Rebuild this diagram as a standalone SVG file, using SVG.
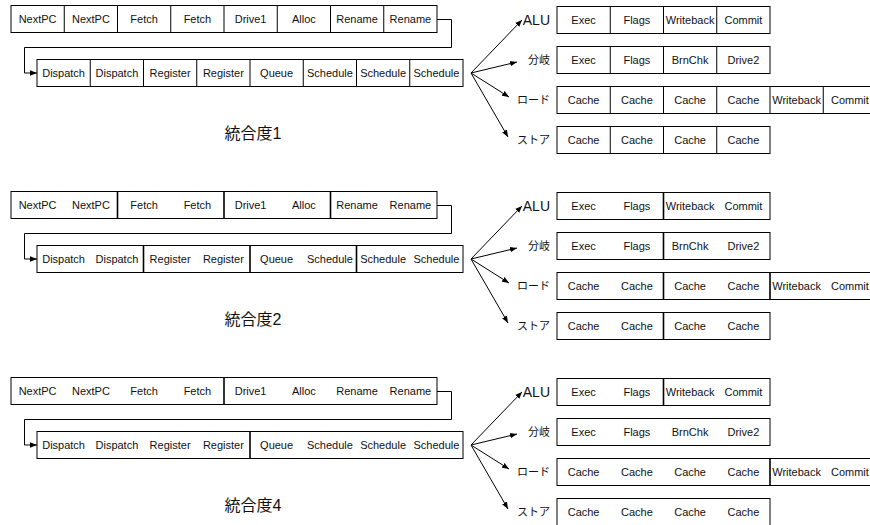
<svg xmlns="http://www.w3.org/2000/svg" width="870" height="525" viewBox="0 0 870 525">
<defs>
<marker id="ah" viewBox="0 0 10 10" refX="10" refY="5" markerWidth="7" markerHeight="7" orient="auto" markerUnits="userSpaceOnUse"><path d="M0,1 L10,5 L0,9 z" fill="#000"/></marker>
<style>
.box{fill:#fff;stroke:#000;stroke-width:1}
.div{stroke:#000;stroke-width:1}
.divb{stroke:#000;stroke-width:1.6}
.t{font-family:"Liberation Sans",Arial,sans-serif;font-size:11px;fill:#111;text-anchor:middle;dominant-baseline:central}
.lab{font-family:"Liberation Sans","Noto Sans CJK JP",sans-serif;font-size:11px;fill:#111;text-anchor:end;dominant-baseline:central}
.alu{font-size:14px}
.cap{font-family:"Liberation Sans","Noto Sans CJK JP",sans-serif;font-size:16px;fill:#111;text-anchor:middle;dominant-baseline:central}
.ln{fill:none;stroke:#000;stroke-width:1}
</style>
</defs>
<rect width="870" height="525" fill="#fff"/>

<!-- Section 1 -->
<g id="sec1">
<g id="s1-front">
<rect class="box" x="11" y="5.5" width="426" height="27"/>
<path class="div" d="M64.25,5.5V32.5M117.5,5.5V32.5M170.75,5.5V32.5M224,5.5V32.5M277.25,5.5V32.5M330.5,5.5V32.5M383.75,5.5V32.5"/>
<text class="t" y="19"><tspan x="37.6">NextPC</tspan><tspan x="90.9">NextPC</tspan><tspan x="144.1">Fetch</tspan><tspan x="197.4">Fetch</tspan><tspan x="250.6">Drive1</tspan><tspan x="303.9">Alloc</tspan><tspan x="357.1">Rename</tspan><tspan x="410.4">Rename</tspan></text>
</g>
<g id="s1-back">
<rect class="box" x="37" y="59.5" width="426" height="27"/>
<path class="div" d="M90.25,59.5V86.5M143.5,59.5V86.5M196.75,59.5V86.5M250,59.5V86.5M303.25,59.5V86.5M356.5,59.5V86.5M409.75,59.5V86.5"/>
<text class="t" y="73"><tspan x="63.6">Dispatch</tspan><tspan x="116.9">Dispatch</tspan><tspan x="170.1">Register</tspan><tspan x="223.4">Register</tspan><tspan x="276.6">Queue</tspan><tspan x="329.9">Schedule</tspan><tspan x="383.1">Schedule</tspan><tspan x="436.4">Schedule</tspan></text>
</g>
<g id="s1-alu">
<text class="lab alu" x="550" y="20">ALU</text>
<rect class="box" x="557" y="6.5" width="213" height="27"/>
<path class="div" d="M610.25,6.5V33.5M663.5,6.5V33.5M716.75,6.5V33.5"/>
<text class="t" y="20"><tspan x="583.6">Exec</tspan><tspan x="636.9">Flags</tspan><tspan x="690.1">Writeback</tspan><tspan x="743.4">Commit</tspan></text>
</g>
<g id="s1-br">
<text class="lab" x="550" y="60">分岐</text>
<rect class="box" x="557" y="46.5" width="213" height="27"/>
<path class="div" d="M610.25,46.5V73.5M663.5,46.5V73.5M716.75,46.5V73.5"/>
<text class="t" y="60"><tspan x="583.6">Exec</tspan><tspan x="636.9">Flags</tspan><tspan x="690.1">BrnChk</tspan><tspan x="743.4">Drive2</tspan></text>
</g>
<g id="s1-ld">
<text class="lab" x="550" y="100">ロード</text>
<rect class="box" x="557" y="86.5" width="320" height="27"/>
<path class="div" d="M610.25,86.5V113.5M663.5,86.5V113.5M716.75,86.5V113.5M770,86.5V113.5M823.25,86.5V113.5"/>
<text class="t" y="100"><tspan x="583.6">Cache</tspan><tspan x="636.9">Cache</tspan><tspan x="690.1">Cache</tspan><tspan x="743.4">Cache</tspan><tspan x="796.6">Writeback</tspan><tspan x="849.9">Commit</tspan></text>
</g>
<g id="s1-st">
<text class="lab" x="550" y="140">ストア</text>
<rect class="box" x="557" y="126.5" width="213" height="27"/>
<path class="div" d="M610.25,126.5V153.5M663.5,126.5V153.5M716.75,126.5V153.5"/>
<text class="t" y="140"><tspan x="583.6">Cache</tspan><tspan x="636.9">Cache</tspan><tspan x="690.1">Cache</tspan><tspan x="743.4">Cache</tspan></text>
</g>
<text class="cap" x="253" y="133">統合度1</text>
</g>

<!-- Section 2 -->
<g id="sec2" transform="translate(0,186)">
<g id="s2-front">
<rect class="box" x="11" y="5.5" width="426" height="27"/>
<path class="divb" d="M117.5,5.5V32.5M224,5.5V32.5M330.5,5.5V32.5"/>
<text class="t" y="19"><tspan x="37.6">NextPC</tspan><tspan x="90.9">NextPC</tspan><tspan x="144.1">Fetch</tspan><tspan x="197.4">Fetch</tspan><tspan x="250.6">Drive1</tspan><tspan x="303.9">Alloc</tspan><tspan x="357.1">Rename</tspan><tspan x="410.4">Rename</tspan></text>
</g>
<g id="s2-back">
<rect class="box" x="37" y="59.5" width="426" height="27"/>
<path class="divb" d="M143.5,59.5V86.5M250,59.5V86.5M356.5,59.5V86.5"/>
<text class="t" y="73"><tspan x="63.6">Dispatch</tspan><tspan x="116.9">Dispatch</tspan><tspan x="170.1">Register</tspan><tspan x="223.4">Register</tspan><tspan x="276.6">Queue</tspan><tspan x="329.9">Schedule</tspan><tspan x="383.1">Schedule</tspan><tspan x="436.4">Schedule</tspan></text>
</g>
<g id="s2-alu">
<text class="lab alu" x="550" y="20">ALU</text>
<rect class="box" x="557" y="6.5" width="213" height="27"/>
<path class="divb" d="M663.5,6.5V33.5"/>
<text class="t" y="20"><tspan x="583.6">Exec</tspan><tspan x="636.9">Flags</tspan><tspan x="690.1">Writeback</tspan><tspan x="743.4">Commit</tspan></text>
</g>
<g id="s2-br">
<text class="lab" x="550" y="60">分岐</text>
<rect class="box" x="557" y="46.5" width="213" height="27"/>
<path class="divb" d="M663.5,46.5V73.5"/>
<text class="t" y="60"><tspan x="583.6">Exec</tspan><tspan x="636.9">Flags</tspan><tspan x="690.1">BrnChk</tspan><tspan x="743.4">Drive2</tspan></text>
</g>
<g id="s2-ld">
<text class="lab" x="550" y="100">ロード</text>
<rect class="box" x="557" y="86.5" width="320" height="27"/>
<path class="divb" d="M663.5,86.5V113.5M770,86.5V113.5"/>
<text class="t" y="100"><tspan x="583.6">Cache</tspan><tspan x="636.9">Cache</tspan><tspan x="690.1">Cache</tspan><tspan x="743.4">Cache</tspan><tspan x="796.6">Writeback</tspan><tspan x="849.9">Commit</tspan></text>
</g>
<g id="s2-st">
<text class="lab" x="550" y="140">ストア</text>
<rect class="box" x="557" y="126.5" width="213" height="27"/>
<path class="divb" d="M663.5,126.5V153.5"/>
<text class="t" y="140"><tspan x="583.6">Cache</tspan><tspan x="636.9">Cache</tspan><tspan x="690.1">Cache</tspan><tspan x="743.4">Cache</tspan></text>
</g>
<text class="cap" x="253" y="133">統合度2</text>
</g>

<!-- Section 3 -->
<g id="sec3" transform="translate(0,372)">
<g id="s3-front">
<rect class="box" x="11" y="5.5" width="426" height="27"/>
<path class="divb" d="M224,5.5V32.5"/>
<text class="t" y="19"><tspan x="37.6">NextPC</tspan><tspan x="90.9">NextPC</tspan><tspan x="144.1">Fetch</tspan><tspan x="197.4">Fetch</tspan><tspan x="250.6">Drive1</tspan><tspan x="303.9">Alloc</tspan><tspan x="357.1">Rename</tspan><tspan x="410.4">Rename</tspan></text>
</g>
<g id="s3-back">
<rect class="box" x="37" y="59.5" width="426" height="27"/>
<path class="divb" d="M250,59.5V86.5"/>
<text class="t" y="73"><tspan x="63.6">Dispatch</tspan><tspan x="116.9">Dispatch</tspan><tspan x="170.1">Register</tspan><tspan x="223.4">Register</tspan><tspan x="276.6">Queue</tspan><tspan x="329.9">Schedule</tspan><tspan x="383.1">Schedule</tspan><tspan x="436.4">Schedule</tspan></text>
</g>
<g id="s3-alu">
<text class="lab alu" x="550" y="20">ALU</text>
<rect class="box" x="557" y="6.5" width="213" height="27"/>
<path class="divb" d="M663.5,6.5V33.5"/>
<text class="t" y="20"><tspan x="583.6">Exec</tspan><tspan x="636.9">Flags</tspan><tspan x="690.1">Writeback</tspan><tspan x="743.4">Commit</tspan></text>
</g>
<g id="s3-br">
<text class="lab" x="550" y="60">分岐</text>
<rect class="box" x="557" y="46.5" width="213" height="27"/>
<text class="t" y="60"><tspan x="583.6">Exec</tspan><tspan x="636.9">Flags</tspan><tspan x="690.1">BrnChk</tspan><tspan x="743.4">Drive2</tspan></text>
</g>
<g id="s3-ld">
<text class="lab" x="550" y="100">ロード</text>
<rect class="box" x="557" y="86.5" width="320" height="27"/>
<path class="divb" d="M770,86.5V113.5"/>
<text class="t" y="100"><tspan x="583.6">Cache</tspan><tspan x="636.9">Cache</tspan><tspan x="690.1">Cache</tspan><tspan x="743.4">Cache</tspan><tspan x="796.6">Writeback</tspan><tspan x="849.9">Commit</tspan></text>
</g>
<g id="s3-st">
<text class="lab" x="550" y="140">ストア</text>
<rect class="box" x="557" y="126.5" width="213" height="27"/>
<text class="t" y="140"><tspan x="583.6">Cache</tspan><tspan x="636.9">Cache</tspan><tspan x="690.1">Cache</tspan><tspan x="743.4">Cache</tspan></text>
</g>
<text class="cap" x="253" y="133">統合度4</text>
</g>

<!-- Connectors -->
<g id="connectors">
<g id="c1">
<path class="ln" d="M437,19.5H451.5V47.5H24.5V73H37" marker-end="url(#ah)"/>
<path class="ln" d="M471,73L522,20" marker-end="url(#ah)"/>
<path class="ln" d="M471,73L517,62" marker-end="url(#ah)"/>
<path class="ln" d="M471,73L509,97" marker-end="url(#ah)"/>
<path class="ln" d="M471,73L508,137" marker-end="url(#ah)"/>
</g>
<g id="c2" transform="translate(0,186)">
<path class="ln" d="M437,19.5H451.5V47.5H24.5V73H37" marker-end="url(#ah)"/>
<path class="ln" d="M471,73L522,20" marker-end="url(#ah)"/>
<path class="ln" d="M471,73L517,62" marker-end="url(#ah)"/>
<path class="ln" d="M471,73L509,97" marker-end="url(#ah)"/>
<path class="ln" d="M471,73L508,137" marker-end="url(#ah)"/>
</g>
<g id="c3" transform="translate(0,372)">
<path class="ln" d="M437,19.5H451.5V47.5H24.5V73H37" marker-end="url(#ah)"/>
<path class="ln" d="M471,73L522,20" marker-end="url(#ah)"/>
<path class="ln" d="M471,73L517,62" marker-end="url(#ah)"/>
<path class="ln" d="M471,73L509,97" marker-end="url(#ah)"/>
<path class="ln" d="M471,73L508,137" marker-end="url(#ah)"/>
</g>
</g>
</svg>
